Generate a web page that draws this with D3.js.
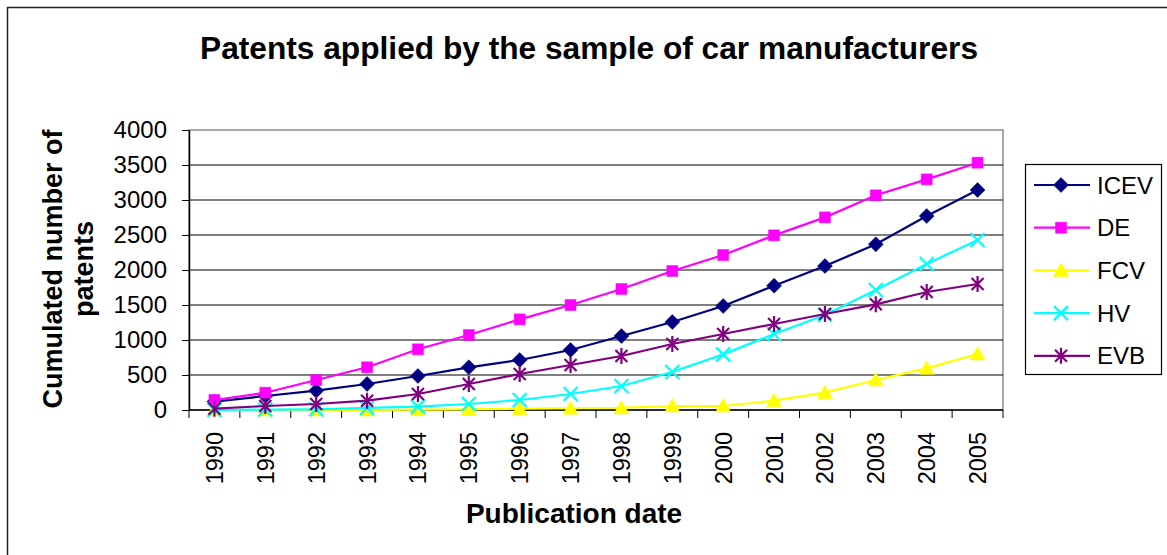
<!DOCTYPE html>
<html>
<head>
<meta charset="utf-8">
<script src="https://cdn.jsdelivr.net/npm/d3@7"></script>
<style>
  body { margin: 0; background: #fff; }
  svg text { font-family: "Liberation Sans", Arial, sans-serif; fill: #000; }
</style>
</head>
<body>
<div id="chart"></div>
<script>
// Chart data
const years = ["1990", "1991", "1992", "1993", "1994", "1995", "1996", "1997",
  "1998", "1999", "2000", "2001", "2002", "2003", "2004", "2005"];
const icev = [120, 200, 276, 371, 486, 610, 714, 857, 1057, 1257, 1486, 1776, 2057, 2367, 2771, 3143];
const de = [143, 247, 428, 610, 867, 1071, 1295, 1500, 1729, 1986, 2214, 2495, 2752, 3067, 3295, 3533];
const fcv = [0, 0, 0, 0, 5, 10, 19, 25, 29, 57, 57, 133, 248, 428, 595, 800];
const hv = [0, 5, 10, 30, 48, 86, 143, 229, 343, 543, 795, 1086, 1357, 1714, 2086, 2429];
const evb = [19, 57, 86, 133, 229, 371, 514, 643, 771, 943, 1086, 1229, 1371, 1510, 1686, 1800];
const yTicks = [0, 500, 1000, 1500, 2000, 2500, 3000, 3500, 4000];

const seriesNames = ["ICEV", "DE", "FCV", "HV", "EVB"];
const seriesValues = [icev, de, fcv, hv, evb];
const seriesColors = ["#000080", "#ff00ff", "#ffff00", "#00ffff", "#800080"];
const seriesMarkers = ["diamond", "square", "triangle", "cross", "star"];

// Global Constants
const W = 1167, H = 555;
const plot = { left: 189, right: 1003, top: 130, bottom: 410 };

const x = d3.scaleBand()
  .domain(years)
  .range([plot.left, plot.right])
  .padding(0);
const y = d3.scaleLinear()
  .domain([0, 4000])
  .range([plot.bottom, plot.top]);

const svg = d3.select("#chart")
  .append("svg")
    .attr("width", W)
    .attr("height", H);

// outer chart frame (only left/top edges show in the picture)
svg.append("rect")
  .attr("x", 7.5).attr("y", 7.5)
  .attr("width", W + 20).attr("height", H + 20)
  .attr("fill", "#fff")
  .attr("stroke", "#222")
  .attr("stroke-width", 1.5);

// title
svg.append("text")
  .attr("x", 589)
  .attr("y", 59)
  .attr("text-anchor", "middle")
  .attr("textLength", 778)
  .attr("lengthAdjust", "spacingAndGlyphs")
  .style("font-size", "31px")
  .style("font-weight", "bold")
  .text("Patents applied by the sample of car manufacturers");

// plot area border (grey)
svg.append("rect")
  .attr("x", plot.left).attr("y", plot.top)
  .attr("width", plot.right - plot.left)
  .attr("height", plot.bottom - plot.top)
  .attr("fill", "none")
  .attr("stroke", "#8c8c8c")
  .attr("stroke-width", 1.5);

// horizontal gridlines
svg.append("g")
  .selectAll("line")
  .data(yTicks.filter(d => d > 0 && d < 4000))
  .enter().append("line")
    .attr("x1", plot.left).attr("x2", plot.right)
    .attr("y1", d => y(d)).attr("y2", d => y(d))
    .attr("stroke", "#000")
    .attr("stroke-width", 1);

// y axis
const yAxis = svg.append("g")
  .attr("transform", "translate(" + plot.left + ",0)")
  .call(d3.axisLeft(y)
    .tickValues(yTicks)
    .tickFormat(d3.format("d"))
    .tickSize(7)
    .tickPadding(15)
    .tickSizeOuter(0));
yAxis.select(".domain").attr("stroke", "#000").attr("stroke-width", 1.5);
yAxis.selectAll(".tick line").attr("stroke", "#000");
yAxis.selectAll("text")
  .style("font-size", "24px")
  .attr("font-family", null);

// x axis: labels at band centres, ticks at band boundaries
svg.append("line")
  .attr("x1", plot.left).attr("x2", plot.right)
  .attr("y1", plot.bottom).attr("y2", plot.bottom)
  .attr("stroke", "#000").attr("stroke-width", 1.5);

const boundaries = years.map(d => x(d)).concat([x(years[years.length - 1]) + x.bandwidth()]);
svg.append("g")
  .selectAll("line")
  .data(boundaries)
  .enter().append("line")
    .attr("x1", d => d).attr("x2", d => d)
    .attr("y1", plot.bottom).attr("y2", plot.bottom + 8)
    .attr("stroke", "#000");

svg.append("g")
  .selectAll("text")
  .data(years)
  .enter().append("text")
    .attr("transform", d => "translate(" + (x(d) + x.bandwidth() / 2) + "," + 432 + ") rotate(-90)")
    .attr("text-anchor", "end")
    .attr("dy", "0.36em")
    .style("font-size", "23.5px")
    .text(d => d);

// axis titles
svg.append("text")
  .attr("x", 574)
  .attr("y", 523)
  .attr("text-anchor", "middle")
  .style("font-size", "28px")
  .style("font-weight", "bold")
  .text("Publication date");

const yTitle = svg.append("text")
  .attr("transform", "translate(0," + 269 + ") rotate(-90)")
  .attr("text-anchor", "middle")
  .style("font-size", "27px")
  .style("font-weight", "bold");
yTitle.append("tspan").attr("x", 0).attr("y", 62).text("Cumulated number of");
yTitle.append("tspan").attr("x", 0).attr("y", 93).text("patents");

// marker shapes
const markerPath = (type) => {
  if (type === "diamond") return "M0,-7.5L7.5,0L0,7.5L-7.5,0Z";
  if (type === "square") return "M-5.5,-5.5H5.5V5.5H-5.5Z";
  if (type === "triangle") return "M0,-7.5L7.5,6L-7.5,6Z";
  if (type === "cross") return "M-7,-7L7,7M-7,7L7,-7";
  return "M0,-8V8M-6,-6L6,6M-6,6L6,-6";
};
const isStroke = t => t === "cross" || t === "star";

const line = d3.line()
  .x((d, i) => x(years[i]) + x.bandwidth() / 2)
  .y(d => y(d));

// series lines + markers
seriesValues.forEach((vals, s) => {
  const g = svg.append("g").attr("class", "series");
  g.append("path")
    .datum(vals)
    .attr("d", line)
    .attr("fill", "none")
    .attr("stroke", seriesColors[s])
    .attr("stroke-width", 2.2);
  g.selectAll(".mark")
    .data(vals)
    .enter().append("path")
      .attr("class", "mark")
      .attr("transform", (d, i) => "translate(" + (x(years[i]) + x.bandwidth() / 2) + "," + y(d) + ")")
      .attr("d", markerPath(seriesMarkers[s]))
      .attr("fill", isStroke(seriesMarkers[s]) ? "none" : seriesColors[s])
      .attr("stroke", seriesColors[s])
      .attr("stroke-width", isStroke(seriesMarkers[s]) ? 2.2 : 0.5);
});

// legend
const legend = svg.append("g").attr("transform", "translate(1025,164)");
legend.append("rect")
  .attr("x", 0.5).attr("y", 0.5)
  .attr("width", 136).attr("height", 210)
  .attr("fill", "#fff")
  .attr("stroke", "#000")
  .attr("stroke-width", 1.2);

const item = legend.selectAll(".item")
  .data(seriesNames)
  .enter().append("g")
    .attr("class", "item")
    .attr("transform", (d, i) => "translate(0," + (21 + i * 42.7) + ")");
item.append("line")
  .attr("x1", 9).attr("x2", 65)
  .attr("stroke", (d, i) => seriesColors[i])
  .attr("stroke-width", 2.2);
item.append("path")
  .attr("transform", "translate(36,0)")
  .attr("d", (d, i) => markerPath(seriesMarkers[i]))
  .attr("fill", (d, i) => isStroke(seriesMarkers[i]) ? "none" : seriesColors[i])
  .attr("stroke", (d, i) => seriesColors[i])
  .attr("stroke-width", (d, i) => isStroke(seriesMarkers[i]) ? 2.2 : 0.5);
item.append("text")
  .attr("x", 72)
  .attr("dy", "0.36em")
  .style("font-size", "24px")
  .text(d => d);
</script>
</body>
</html>
